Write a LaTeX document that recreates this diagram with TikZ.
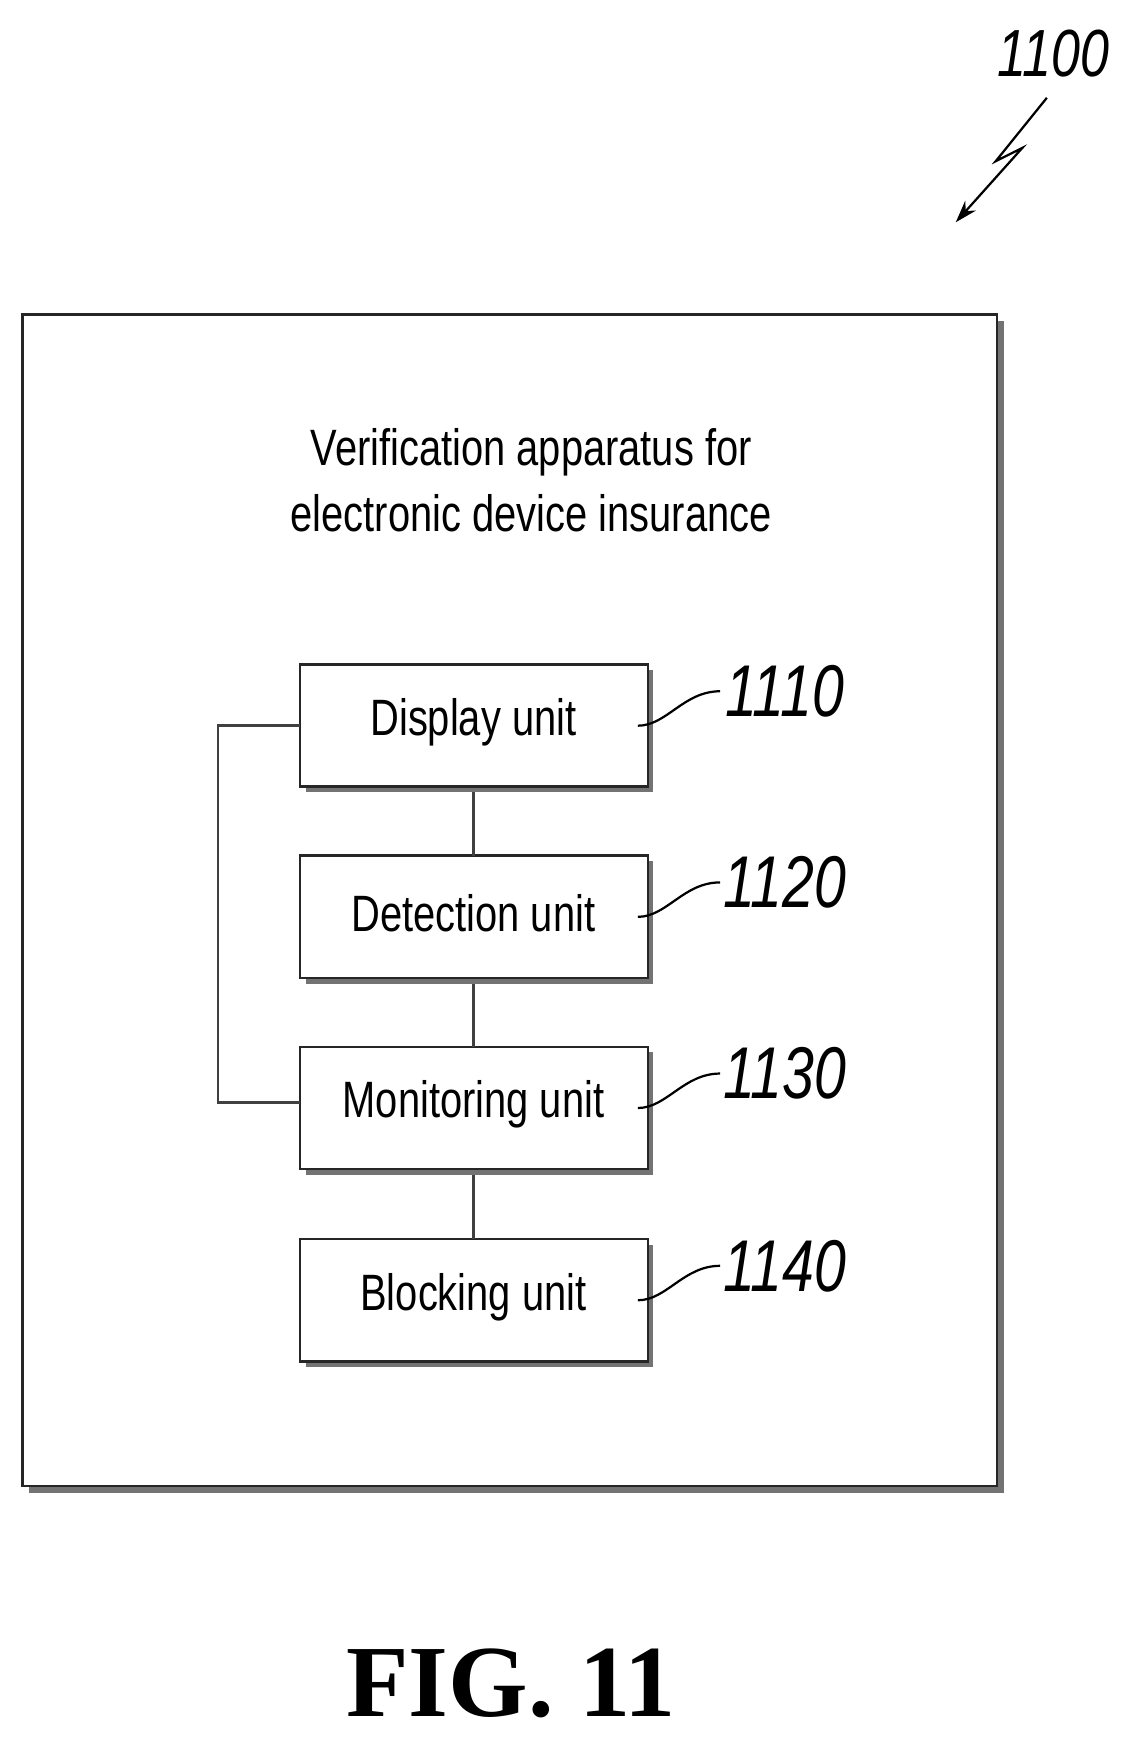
\documentclass[tikz,border=0pt]{standalone}
\usepackage{fontspec}
\setmainfont{Liberation Sans}
\newfontfamily\narrow[FakeStretch=0.78]{Liberation Sans}
\newfontfamily\figfont{Liberation Serif}
\usetikzlibrary{arrows.meta}
\begin{document}
\begin{tikzpicture}[x=1pt,y=-1pt,
  shadowed/.style={draw=black!85,line width=2.4pt,fill=white},
  shad/.style={fill=black!55},
  unit/.style={font=\narrow\fontsize{46}{52}\selectfont},
  ref/.style={font=\narrow\itshape\fontsize{66}{70}\selectfont},
  conn/.style={draw=black!75,line width=2.2pt}]
\useasboundingbox (0,0) rectangle (1024,1572);
% outer box
\fill[shad] (26,289) rectangle (903,1343);
\draw[shadowed] (20,283) rectangle (897,1337);
\node[unit,align=center] (title) at (478,432) {Verification apparatus for\\[8pt]electronic device insurance};
% units
\foreach \n/\y/\t in {d/598/Display unit,e/770/Detection unit,m/942/Monitoring unit,b/1115/Blocking unit}{
  \fill[shad] (275,\y+5) rectangle (588,\y+115);
  \draw[shadowed] (270,\y) rectangle (583,\y+110);
  \node[unit] (\n) at (426,\y+52) {\t};
  \coordinate (\n T) at (426,\y);
  \coordinate (\n B) at (426,\y+115);
}
\coordinate (dL) at (270,653);
\coordinate (mL) at (270,992);
\draw[conn] (dB) -- (eT);
\draw[conn] (eB) -- (mT);
\draw[conn] (mB) -- (bT);
\draw[conn] (dL) -- (196,653) -- (196,992) -- (mL);
% reference numbers
\foreach \n/\y/\t in {d/598/1110,e/770/1120,m/942/1130,b/1115/1140}{
  \node[ref] (r\n) at (706,\y+24) {\t};
  \draw[line width=2pt] (574,\y+55) .. controls (600,\y+55) and (615,\y+24) .. (648,\y+24);
}
\node[ref,font=\narrow\itshape\fontsize{60}{64}\selectfont] (r1100) at (948,48) {1100};
\coordinate (z0) at (942,88);
\coordinate (z3) at (860,200);
\draw[line width=2pt,-{Stealth[length=20pt,width=13pt]}] (z0) -- (896,145) -- (920,133) -- (z3);
\node[font=\figfont\bfseries\fontsize{92}{100}\selectfont] (fig) at (460,1515) {FIG. 11};
\end{tikzpicture}
\end{document}
